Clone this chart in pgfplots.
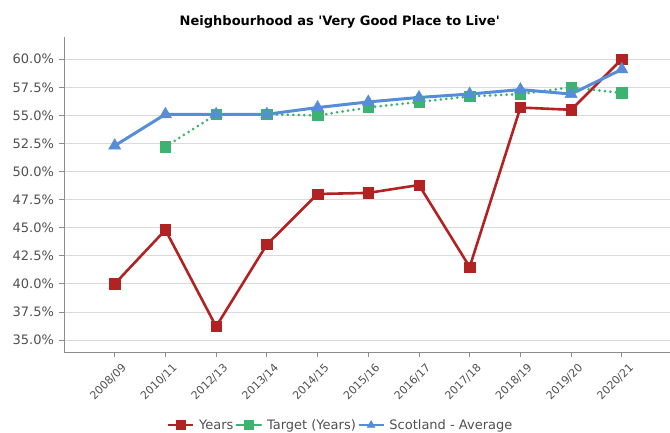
\documentclass[border=0pt]{standalone}
\usepackage{fontspec}
\setmainfont{DejaVu Sans}[Ligatures=TeXOff]
\usepackage{pgfplots}
\pgfplotsset{compat=1.18}
\usetikzlibrary{calc}

\definecolor{yrs}{RGB}{178,34,34}
\definecolor{tgt}{RGB}{60,179,113}
\definecolor{sco}{RGB}{86,141,217}
\definecolor{gridc}{RGB}{218,218,218}
\definecolor{axc}{RGB}{140,140,140}
\definecolor{txt}{RGB}{80,80,80}

\begin{document}
\begin{tikzpicture}
\begin{axis}[
    name=ax,
    scale only axis,
    width=606pt, height=315.2pt,
    xmin=-1, xmax=10.95,
    ymin=33.93, ymax=62,
    axis x line*=bottom, axis y line*=left,
    axis line style={-, axc, line width=0.8pt},
    tick style={axc, line width=0.8pt},
    tick align=outside,
    major tick length=5pt,
    xtick={0,...,10},
    xticklabels={2008/09,2010/11,2012/13,2013/14,2014/15,2015/16,2016/17,2017/18,2018/19,2019/20,2020/21},
    x tick label style={rotate=45, anchor=north east, xshift=4pt, yshift=-5pt,
        font=\fontsize{11}{13}\selectfont, text=txt},
    ytick={35,37.5,...,60},
    yticklabels={35.0\%,37.5\%,40.0\%,42.5\%,45.0\%,47.5\%,50.0\%,52.5\%,55.0\%,57.5\%,60.0\%},
    y tick label style={font=\fontsize{13}{15}\selectfont, text=txt, xshift=-1.5pt},
    ymajorgrids,
    grid style={gridc, line width=0.8pt},
    title={Neighbourhood as 'Very Good Place to Live'},
    title style={at={(0.455,1)}, anchor=center, yshift=9pt, font=\bfseries\fontsize{13}{15}\selectfont},
    legend columns=3,
    legend style={draw=none, fill=none, at={(0.457,-0.232)}, anchor=center,
        font=\fontsize{13}{15}\selectfont, text=txt,
        /tikz/every odd column/.append style={column sep=3pt}},
    legend image code/.code={
        \draw[#1, solid, line width=1.6pt] (0pt,0pt) -- (25pt,0pt);
        \path[#1, solid, mark size=4.5pt] plot coordinates {(12.5pt,0pt)};},
]
\addplot[yrs, line width=2.6pt, mark=square*, mark size=5.2pt, mark options={solid, line width=0.5pt}]
    coordinates {(0,40.0)(1,44.8)(2,36.2)(3,43.5)(4,48.0)(5,48.1)(6,48.8)(7,41.5)(8,55.7)(9,55.5)(10,60.0)};
\addlegendentry{Years}
\addplot[tgt, line width=3pt, line cap=round, dash pattern=on 0pt off 5.5pt, mark=square*, mark size=5.2pt, mark options={solid, line width=0.5pt}]
    coordinates {(1,52.2)(2,55.1)(3,55.1)(4,55.0)(5,55.7)(6,56.2)(7,56.7)(8,56.9)(9,57.5)(10,57.0)};
\addlegendentry{Target (Years)}
\addplot[sco, line width=3pt, mark=triangle*, mark size=7pt, mark options={solid, line width=0.5pt}]
    coordinates {(0,52.3)(1,55.1)(2,55.1)(3,55.1)(4,55.7)(5,56.2)(6,56.6)(7,56.9)(8,57.3)(9,56.9)(10,59.1)};
\addlegendentry{Scotland - Average}
\end{axis}
\pgfresetboundingbox
\path[use as bounding box] ($(ax.south west)+(-64pt,-80pt)$) rectangle ($(ax.north east)+(0pt,36.8pt)$);
\end{tikzpicture}
\end{document}
